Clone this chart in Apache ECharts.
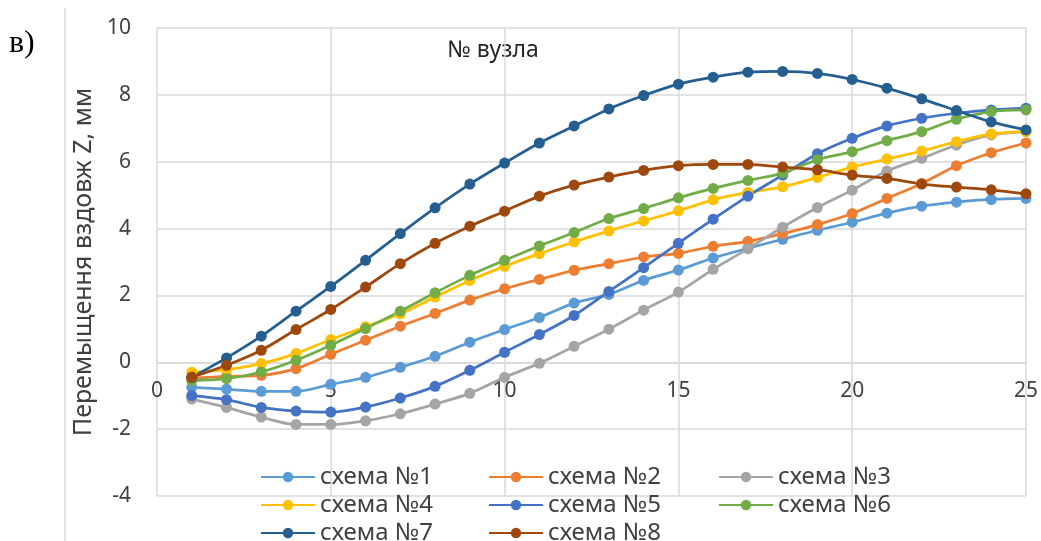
<!DOCTYPE html>
<html>
<head>
<meta charset="utf-8">
<script src="https://cdn.jsdelivr.net/npm/echarts@6/dist/echarts.min.js"></script>
<style>
html,body{margin:0;padding:0;background:#fff;}
#chart{width:1041px;height:541px;}
</style>
</head>
<body>
<div id="chart"></div>
<script>
// node numbers (x) and displacement values
const nodes = [1,2,3,4,5,6,7,8,9,10,11,12,13,14,15,16,17,18,19,20,21,22,23,24,25];
const seriesNames = ['схема №1','схема №2','схема №3','схема №4','схема №5','схема №6','схема №7','схема №8'];
const s1 = [-0.75,-0.8,-0.87,-0.87,-0.66,-0.45,-0.15,0.18,0.6,0.98,1.34,1.77,2.03,2.45,2.76,3.12,3.41,3.68,3.95,4.19,4.46,4.67,4.79,4.87,4.9];
const s2 = [-0.48,-0.42,-0.39,-0.19,0.24,0.66,1.08,1.46,1.86,2.2,2.48,2.75,2.95,3.15,3.26,3.47,3.62,3.85,4.12,4.45,4.9,5.35,5.88,6.27,6.56];
const s3 = [-1.1,-1.35,-1.64,-1.86,-1.86,-1.75,-1.54,-1.25,-0.93,-0.45,-0.03,0.48,0.99,1.56,2.1,2.78,3.4,4.04,4.63,5.15,5.72,6.1,6.5,6.8,6.9];
const s4 = [-0.3,-0.22,-0.04,0.26,0.68,1.06,1.45,1.95,2.45,2.87,3.25,3.6,3.93,4.23,4.53,4.86,5.08,5.25,5.53,5.84,6.08,6.32,6.6,6.83,6.9];
const s5 = [-1.0,-1.12,-1.35,-1.46,-1.49,-1.34,-1.07,-0.72,-0.24,0.3,0.83,1.4,2.12,2.83,3.56,4.28,4.97,5.6,6.24,6.7,7.07,7.3,7.45,7.55,7.6];
const s6 = [-0.55,-0.49,-0.29,0.06,0.51,1.01,1.53,2.08,2.6,3.05,3.48,3.88,4.3,4.6,4.92,5.2,5.44,5.66,6.06,6.3,6.63,6.9,7.27,7.5,7.55];
const s7 = [-0.45,0.13,0.78,1.53,2.27,3.05,3.85,4.62,5.33,5.96,6.56,7.07,7.58,7.98,8.32,8.53,8.68,8.7,8.64,8.46,8.2,7.88,7.53,7.19,6.95];
const s8 = [-0.45,-0.09,0.36,0.98,1.58,2.25,2.95,3.56,4.07,4.52,4.97,5.3,5.54,5.74,5.88,5.92,5.92,5.84,5.76,5.6,5.5,5.33,5.24,5.16,5.04];
const seriesValues = [s1,s2,s3,s4,s5,s6,s7,s8];
const colors = ['#5B9BD5','#ED7D31','#A5A5A5','#FFC000','#4472C4','#70AD47','#255E91','#9E480E'];
const xTicks = {min:0,max:25,interval:5};
const yTicks = {min:-4,max:10,interval:2};
const yTitle = 'Перемыщення вздовж Z, мм';
const xTitle = '№ вузла';
const panelLabel = 'в)';

const chart = echarts.init(document.getElementById('chart'), null, {renderer:'canvas'});
const font = 'Noto Sans';
const legendCols = [255, 483, 713];
const legendRows = [475, 503, 531];

const gridTop = 28, gridBottom = 45, chartH = 541;
const plotH = chartH - gridTop - gridBottom;
// distance from bottom of plot to the zero line (computed through the axis range)
const zeroOffset = plotH * (0 - yTicks.min) / (yTicks.max - yTicks.min);

const legends = seriesNames.map((n,i)=>({
  data:[n],
  left: legendCols[i%3],
  top: legendRows[Math.floor(i/3)] - 15,
  itemWidth: 54, itemHeight: 13, itemGap: 0,
  selectedMode: false,
  textStyle:{fontFamily:font,fontSize:24,color:'#404040',padding:0}
}));

chart.setOption({
  animation:false,
  backgroundColor:'#fff',
  color: colors,
  grid:{left:157,right:14,top:gridTop,bottom:gridBottom,containLabel:false},
  legend: legends,
  xAxis:{
    type:'value', min:xTicks.min, max:xTicks.max, interval:xTicks.interval,
    position:'bottom', offset: -zeroOffset,
    axisLine:{show:true,onZero:false,lineStyle:{color:'#D9D9D9',width:1.5}},
    axisTick:{show:false},
    axisLabel:{color:'#404040',fontFamily:font,fontSize:21,margin:18},
    splitLine:{show:true,lineStyle:{color:'#D9D9D9',width:1.5}}
  },
  yAxis:{
    type:'value', min:yTicks.min, max:yTicks.max, interval:yTicks.interval,
    name: yTitle, nameLocation:'middle', nameGap:58, nameRotate:90,
    nameTextStyle:{color:'#404040',fontFamily:font,fontSize:25},
    axisLine:{show:false},
    axisTick:{show:false},
    axisLabel:{color:'#404040',fontFamily:font,fontSize:21,margin:26},
    splitLine:{show:true,lineStyle:{color:'#D9D9D9',width:1.5}}
  },
  graphic:[
    {type:'line',shape:{x1:65,y1:8,x2:65,y2:541},style:{stroke:'#D9D9D9',lineWidth:1.5},silent:true},
    {type:'text',left:9,top:28,style:{text:panelLabel,fontFamily:'Liberation Serif',fontSize:32,fill:'#000'}},
    {type:'text',x:493,y:50,style:{text:xTitle,fontFamily:font,fontSize:23,fill:'#262626',align:'center',verticalAlign:'middle'}}
  ],
  series: seriesNames.map((n,i)=>({
    name:n, type:'line', smooth:0.3,
    data: nodes.map((x,j)=>[x, seriesValues[i][j]]),
    symbol:'circle', symbolSize:11,
    lineStyle:{width:2.75,color:colors[i]},
    itemStyle:{color:colors[i]}
  }))
});
</script>
</body>
</html>
